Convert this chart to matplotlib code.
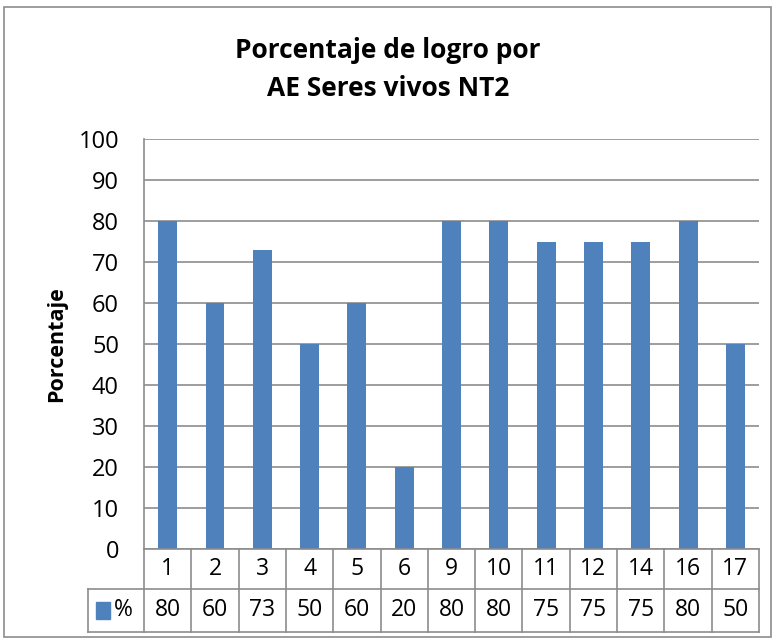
import matplotlib.pyplot as plt
from matplotlib.patches import Rectangle
import numpy as np

categories = ['1', '2', '3', '4', '5', '6', '9', '10', '11', '12', '14', '16', '17']
values = [80, 60, 73, 50, 60, 20, 80, 80, 75, 75, 75, 80, 50]
series_name = '%'

bar_color = '#4F81BD'
grid_color = '#8C8C8C'
font = ['Open Sans', 'DejaVu Sans']

plt.rcParams['font.family'] = font

fig = plt.figure(figsize=(7.76, 6.41), dpi=100)
ax = fig.add_axes([144 / 776, 1 - 549 / 641, (759 - 144) / 776, (549 - 139) / 641])

x = np.arange(len(categories))
ax.bar(x, values, width=0.4, color=bar_color, zorder=3)

ax.set_xlim(-0.5, len(categories) - 0.5)
ax.set_ylim(0, 100)
ax.set_yticks(range(0, 101, 10))
ax.tick_params(axis='y', length=0, labelsize=17, pad=18)
ax.tick_params(axis='x', length=0, labelbottom=False)
ax.yaxis.grid(True, color=grid_color, linewidth=1.2, zorder=0)
for s in ['top', 'right', 'bottom']:
    ax.spines[s].set_visible(False)
ax.spines['left'].set_color(grid_color)
ax.spines['left'].set_linewidth(1.2)
ax.set_ylabel('Porcentaje', fontsize=15.5, fontweight='bold', labelpad=8)

# data table under the chart, in data units (410 px = 100 units)
px = 100 / 410
r1 = -40 * px
r2 = -83 * px
left_cell = -0.5 - (144 - 88) / ((759 - 144) / len(categories))
right = len(categories) - 0.5
lkw = dict(color=grid_color, linewidth=1.2, clip_on=False, zorder=4)

ax.plot([-0.5, right], [0, 0], **lkw)
ax.plot([left_cell, right], [r1, r1], **lkw)
ax.plot([left_cell, right], [r2, r2], **lkw)
ax.plot([left_cell, left_cell], [r1, r2], **lkw)
for i in range(len(categories) + 1):
    ax.plot([i - 0.5, i - 0.5], [0, r2], **lkw)

for i, (c, v) in enumerate(zip(categories, values)):
    ax.text(i, r1 / 2, c, ha='center', va='center', fontsize=16.5)
    ax.text(i, (r1 + r2) / 2, str(v), ha='center', va='center', fontsize=16.5)

ax.add_patch(Rectangle((left_cell + 0.17, (r1 + r2) / 2 - 2.1), 0.3, 4.2,
                       color=bar_color, clip_on=False))
ax.text(left_cell + 0.55, (r1 + r2) / 2, series_name, ha='left', va='center', fontsize=16.5)

fig.text(0.5, 1 - 50 / 641, 'Porcentaje de logro por', ha='center', va='center',
         fontsize=19, fontweight='bold')
fig.text(0.5, 1 - 88 / 641, 'AE Seres vivos NT2', ha='center', va='center',
         fontsize=19, fontweight='bold')

fig.patches.append(Rectangle((4 / 776, 4 / 641), 767 / 776, 630 / 641,
                             transform=fig.transFigure, fill=False,
                             edgecolor=grid_color, linewidth=1.2))

fig.savefig('out.png', dpi=100)
